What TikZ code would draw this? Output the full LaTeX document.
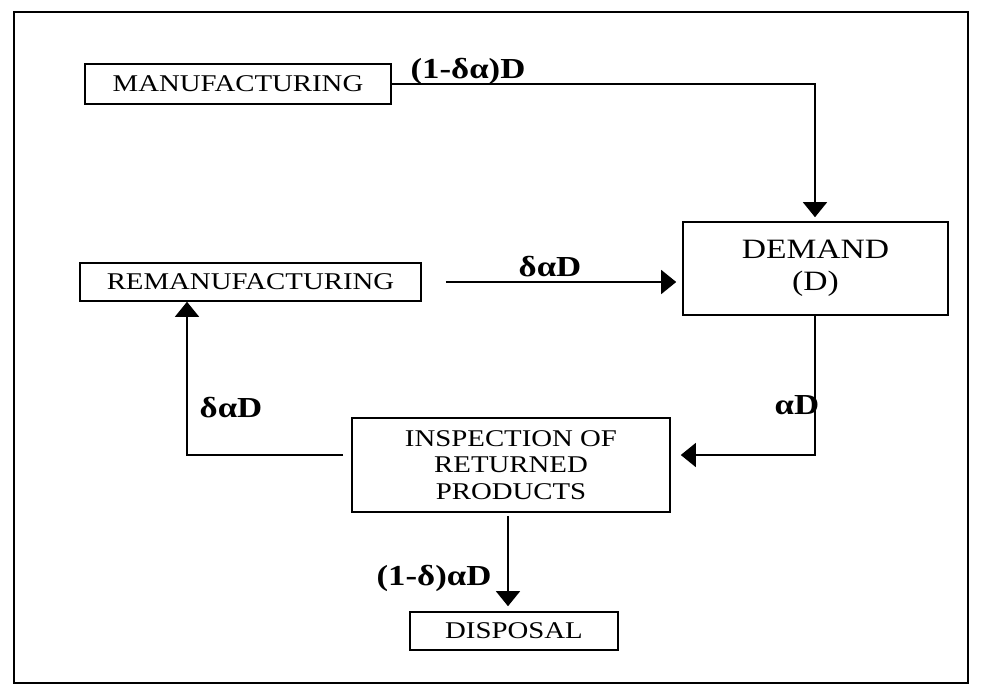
\documentclass[tikz,border=0pt]{standalone}
\usepackage{fontspec}
\setmainfont{Liberation Serif}[FakeStretch=1.2]
\usetikzlibrary{arrows.meta}

\begin{document}
\begin{tikzpicture}[x=1pt, y=-1pt,
        blk/.style={draw, line width=1.6pt, inner sep=0pt, align=center, font=\fontsize{24}{26.5}\selectfont},
        lbl/.style={font=\fontsize{29}{32}\selectfont\bfseries},
        flow/.style={line width=1.4pt, -{Triangle[length=15pt, width=24pt]}}]

                \useasboundingbox (0,0) rectangle (983,697);

                %Frame
                \draw[line width=2pt] (14,12) rectangle (968,683);

                %Boxes
                \node[blk, minimum width=306pt, minimum height=40pt] (manuf) at (238,84) {MANUFACTURING};
                \node[blk, minimum width=341pt, minimum height=38pt] (reman) at (250.5,282) {REMANUFACTURING};
                \node[blk, minimum width=265pt, minimum height=93pt, font=\fontsize{28}{32}\selectfont] (demand) at (815.5,268.5) {DEMAND\\(D)};
                \node[blk, minimum width=318pt, minimum height=94pt] (insp) at (511,465) {INSPECTION OF\\RETURNED\\PRODUCTS};
                \node[blk, minimum width=208pt, minimum height=38pt] (disp) at (514,631) {DISPOSAL};

                %Columns and rows of the flows
                \coordinate (dcol) at (815,0);
                \coordinate (rcol) at (187,0);
                \coordinate (pcol) at (508,0);
                \coordinate (irow) at (0,455);

                %Flows
                \draw[flow, shorten >=4pt] (manuf.east) -| (demand.north -| dcol);
                \draw[flow, shorten <=24pt, shorten >=6pt] (reman.east) -- (reman.east -| demand.west);
                \draw[flow, shorten >=10pt] (demand.south -| dcol) |- (insp.east |- irow);
                \draw[flow, shorten <=8pt] (insp.west |- irow) -| (reman.south -| rcol);
                \draw[flow, shorten <=3pt, shorten >=5pt] (insp.south -| pcol) -- (disp.north -| pcol);

                %Flow labels
                \node[lbl] (lman) at (468,71) {(1-δα)D};
                \node[lbl] (lrem) at (550,267) {δαD};
                \node[lbl] (lret) at (797,405) {αD};
                \node[lbl] (lrec) at (231,408) {δαD};
                \node[lbl] (ldis) at (434,578) {(1-δ)αD};

\end{tikzpicture}
\end{document}
